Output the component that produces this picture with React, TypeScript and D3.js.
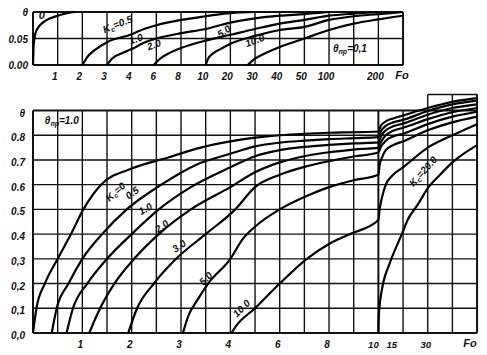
import React, { useEffect, useRef } from "react";
import * as d3 from "d3";

// ---- bottom chart (theta_np = 1.0) ----
const foBottomGrid = [0, 0.5, 1, 1.5, 2, 2.5, 3, 3.5, 4, 5, 6, 7, 8, 9, 10, 20, 30, 40, 50];
const foBottomTicks = [1, 2, 3, 4, 6, 8, 10, 15, 30];
const thetaBottomGrid = [0, 0.1, 0.2, 0.3, 0.4, 0.5, 0.6, 0.7, 0.8, 0.9];
const thetaBottomLabels = ["0,0", "0,1", "0,2", "0,3", "0.4", "0.5", "0.6", "0.7", "0.8", "θ"];

const bKc0 = [[0, 0], [0.07, 0.1], [0.24, 0.2], [0.5, 0.3], [0.77, 0.4], [1.02, 0.5], [1.38, 0.6], [2, 0.665], [2.74, 0.71], [3.4, 0.75], [4, 0.775], [5, 0.79], [6, 0.8], [7, 0.806], [8, 0.81], [9, 0.812], [10, 0.815], [11, 0.838], [13, 0.856], [16, 0.868], [20, 0.88], [30, 0.91], [40, 0.935], [50, 0.95]];
const bKc05 = [[0.38, 0], [0.48, 0.1], [0.72, 0.2], [1.0, 0.3], [1.4, 0.4], [1.9, 0.5], [2.6, 0.6], [3.3, 0.68], [4, 0.725], [5, 0.755], [6, 0.77], [7, 0.778], [8, 0.784], [9, 0.788], [10, 0.792], [11, 0.815], [13, 0.838], [16, 0.852], [20, 0.862], [30, 0.898], [40, 0.925], [50, 0.94]];
const bKc1 = [[0.68, 0], [0.81, 0.1], [1.1, 0.2], [1.5, 0.3], [2.0, 0.4], [2.55, 0.5], [3.2, 0.59], [4, 0.67], [5, 0.715], [6, 0.74], [7, 0.753], [8, 0.761], [9, 0.767], [10, 0.771], [11, 0.795], [13, 0.82], [16, 0.836], [20, 0.847], [30, 0.883], [40, 0.91], [50, 0.925]];
const bKc2 = [[1.14, 0], [1.36, 0.1], [1.65, 0.2], [2.05, 0.3], [2.55, 0.4], [3.2, 0.5], [4, 0.59], [5, 0.65], [6, 0.69], [7, 0.715], [8, 0.731], [9, 0.742], [10, 0.75], [11, 0.772], [13, 0.8], [16, 0.818], [20, 0.83], [30, 0.865], [40, 0.893], [50, 0.91]];
const bKc3 = [[1.93, 0], [2.11, 0.1], [2.45, 0.2], [2.9, 0.3], [3.5, 0.4], [4.2, 0.5], [5, 0.59], [6, 0.64], [7, 0.672], [8, 0.695], [9, 0.714], [10, 0.73], [11, 0.752], [13, 0.778], [16, 0.795], [20, 0.806], [30, 0.845], [40, 0.875], [50, 0.895]];
const bKc5 = [[3.04, 0], [3.15, 0.07], [3.32, 0.13], [3.55, 0.2], [4.0, 0.3], [4.5, 0.38], [5, 0.43], [6, 0.5], [7, 0.55], [8, 0.59], [9, 0.618], [10, 0.64], [10.5, 0.68], [11.5, 0.71], [13, 0.74], [16, 0.76], [20, 0.775], [30, 0.82], [40, 0.852], [50, 0.875]];
const bKc10 = [[4.05, 0], [4.2, 0.024], [5, 0.1], [6, 0.2], [7.1, 0.3], [8, 0.36], [8.85, 0.4], [10, 0.457], [10.5, 0.5], [11.5, 0.55], [13, 0.6], [16, 0.64], [20, 0.67], [30, 0.75], [40, 0.8], [50, 0.845]];
const bKc20 = [[10, 0], [10.1, 0.05], [10.4, 0.1], [11, 0.15], [11.9, 0.2], [14.5, 0.28], [19.5, 0.4], [22, 0.46], [26, 0.52], [30, 0.585], [35, 0.64], [40, 0.69], [50, 0.76]];
const bottomSeries = [bKc0, bKc05, bKc1, bKc2, bKc3, bKc5, bKc10, bKc20];

// ---- top chart (theta_np = 0.1) ----
const foTopGrid = [0, 1, 2, 3, 4, 6, 8, 10, 20, 30, 40, 50, 100, 150, 200, 300];
const foTopTicks = [1, 2, 3, 4, 6, 8, 10, 20, 30, 40, 50, 100, 200];
const thetaTopGrid = [0, 0.05, 0.1];
const thetaTopLabels = ["0.00", "0.05", "θ"];

const tKc0 = [[0, 0], [0.02, 0.03], [0.05, 0.048], [0.1, 0.06], [0.2, 0.07], [0.4, 0.08], [0.7, 0.088], [1, 0.093], [1.3, 0.097], [1.7, 0.1]];
const tKc05 = [[2, 0], [2.2, 0.015], [2.5, 0.028], [3, 0.043], [4, 0.058], [5, 0.068], [6, 0.075], [8, 0.085], [10, 0.092], [20, 0.098], [30, 0.1]];
const tKc1 = [[3, 0], [3.2, 0.012], [3.6, 0.022], [4, 0.03], [5, 0.042], [6, 0.05], [8, 0.06], [10, 0.068], [20, 0.08], [30, 0.088], [40, 0.093], [50, 0.096], [100, 0.1]];
const tKc2 = [[5.8, 0], [6.2, 0.01], [7, 0.022], [8, 0.032], [10, 0.046], [20, 0.057], [30, 0.068], [40, 0.078], [50, 0.085], [100, 0.093], [150, 0.097], [200, 0.1]];
const tKc5 = [[10, 0], [11, 0.012], [13, 0.022], [16, 0.03], [20, 0.04], [30, 0.055], [40, 0.066], [50, 0.072], [100, 0.085], [150, 0.092], [200, 0.096], [300, 0.1]];
const tKc10 = [[27, 0], [30, 0.012], [35, 0.024], [40, 0.034], [50, 0.05], [100, 0.066], [150, 0.078], [200, 0.086], [300, 0.093]];
const topSeries = [tKc0, tKc05, tKc1, tKc2, tKc5, tKc10];

const FONT = "'Liberation Sans', Arial, sans-serif";

const App = () => {
  const ref = useRef<SVGSVGElement>(null);

  useEffect(() => {
    const svg = d3.select(ref.current);
    svg.selectAll("*").remove();
    const step = 24.67;

    const label = (x: number, y: number, txt: string, rot = 0, anchor = "middle", size = 10) =>
      svg.append("text")
        .attr("transform", `translate(${x},${y}) rotate(${rot})`)
        .attr("text-anchor", anchor)
        .attr("font-family", FONT)
        .attr("font-style", "italic")
        .attr("font-weight", "bold")
        .attr("font-size", size)
        .attr("fill", "#111")
        .text(txt);

    const subLabel = (x: number, y: number, pre: string, sub: string, post: string, rot = 0) => {
      const t = svg.append("text")
        .attr("transform", `translate(${x},${y}) rotate(${rot})`)
        .attr("font-family", FONT)
        .attr("font-style", "italic")
        .attr("font-weight", "bold")
        .attr("font-size", 10)
        .attr("fill", "#111");
      t.append("tspan").text(pre);
      t.append("tspan").attr("font-size", 7).attr("dy", 2).text(sub);
      t.append("tspan").attr("dy", -2).text(post);
    };

    // ===== bottom chart =====
    const xB = d3.scaleLinear().domain(foBottomGrid).range(foBottomGrid.map((_, i) => 33 + i * step));
    const yB = d3.scaleLinear().domain([0, 0.9]).range([333, 110.5]);
    const gB = svg.append("g");

    gB.selectAll(".hgrid").data(thetaBottomGrid).enter().append("line")
      .attr("x1", xB(0)).attr("x2", xB(50))
      .attr("y1", (d) => yB(d)).attr("y2", (d) => yB(d))
      .attr("stroke", "#111").attr("stroke-width", (d) => (d === 0 || d === 0.9 ? 2 : 1.4));

    gB.selectAll(".vgrid").data(foBottomGrid).enter().append("line")
      .attr("x1", (d) => xB(d)).attr("x2", (d) => xB(d))
      .attr("y1", yB(0)).attr("y2", (d) => (d >= 30 ? yB(0.965) : yB(0.9)))
      .attr("stroke", "#111").attr("stroke-width", (d) => (d === 0 || d === 50 || d === 10 ? 2 : 1.4));

    gB.append("line")
      .attr("x1", xB(30)).attr("x2", xB(50))
      .attr("y1", yB(0.965)).attr("y2", yB(0.965))
      .attr("stroke", "#111").attr("stroke-width", 1.4);

    const lineB = d3.line<number[]>()
      .x((d) => xB(d[0]))
      .y((d) => yB(d[1]))
      .curve(d3.curveMonotoneX);

    gB.selectAll(".curve").data(bottomSeries).enter().append("path")
      .attr("d", (d) => lineB(d))
      .attr("fill", "none").attr("stroke", "#000").attr("stroke-width", 2.2);

    thetaBottomGrid.forEach((t, i) => label(25, yB(t) + 6, thetaBottomLabels[i], 0, "end"));
    foBottomTicks.forEach((f) => {
      const dx = f === 10 ? -5 : f === 15 ? 1 : -2;
      label(xB(f) + dx, 348, String(f), 0, "middle", f >= 10 ? 9.5 : 10);
    });
    label(470, 347, "Fo", 0, "middle", 11);

    subLabel(xB(0.24), yB(0.846), "θ", "пр", "=1.0");
    subLabel(xB(1.55), yB(0.53), "K", "c", "=0", -42);
    label(xB(2.05), yB(0.555), "0.5", -35);
    label(xB(2.31), yB(0.49), "1.0", -30);
    label(xB(2.65), yB(0.42), "2.0", -35);
    label(xB(3.0), yB(0.34), "3.0", -35);
    label(xB(3.55), yB(0.21), "5.0", -45);
    label(xB(4.55), yB(0.09), "10.0", -45);
    subLabel(xB(24.2), yB(0.59), "K", "c", "=20.0", -48);

    // ===== top chart =====
    const xT = d3.scaleLinear().domain(foTopGrid).range(foTopGrid.map((_, i) => 33 + i * step));
    const yT = d3.scaleLinear().domain([0, 0.1]).range([65, 12]);
    const gT = svg.append("g");

    gT.selectAll(".hgrid").data(thetaTopGrid).enter().append("line")
      .attr("x1", xT(0)).attr("x2", xT(300))
      .attr("y1", (d) => yT(d)).attr("y2", (d) => yT(d))
      .attr("stroke", "#111").attr("stroke-width", (d) => (d === 0.05 ? 1.4 : 2.2));

    gT.selectAll(".vgrid").data(foTopGrid).enter().append("line")
      .attr("x1", (d) => xT(d)).attr("x2", (d) => xT(d))
      .attr("y1", yT(0)).attr("y2", yT(0.1))
      .attr("stroke", "#111").attr("stroke-width", (d) => (d === 0 || d === 300 ? 2 : 1.4));

    const lineT = d3.line<number[]>()
      .x((d) => xT(d[0]))
      .y((d) => yT(d[1]))
      .curve(d3.curveMonotoneX);

    gT.selectAll(".curve").data(topSeries).enter().append("path")
      .attr("d", (d) => lineT(d))
      .attr("fill", "none").attr("stroke", "#000").attr("stroke-width", 2.2);

    thetaTopGrid.forEach((t, i) => label(28, yT(t) + 4, thetaTopLabels[i], 0, "end"));
    foTopTicks.forEach((f) => label(xT(f) - 3, 80, String(f)));
    label(402, 79, "Fo", 0, "middle", 11);

    label(xT(0.36), yT(0.087), "0", 0, "middle", 11);
    subLabel(xT(2.9), yT(0.06), "K", "c", "=0.5", -22);
    label(xT(4.44), yT(0.043), "1.0", -20);
    label(xT(5.9), yT(0.032), "2.0", -20);
    label(xT(18.2), yT(0.058), "5.0", -35);
    label(xT(30.4), yT(0.04), "10.0", -20);
    subLabel(xT(108), yT(0.025), "θ", "пр", "=0,1");
  }, []);

  return (
    <svg
      ref={ref}
      width={487}
      height={355}
      style={{ position: "absolute", left: 0, top: 0, background: "#fff" }}
    />
  );
};

export default App;
